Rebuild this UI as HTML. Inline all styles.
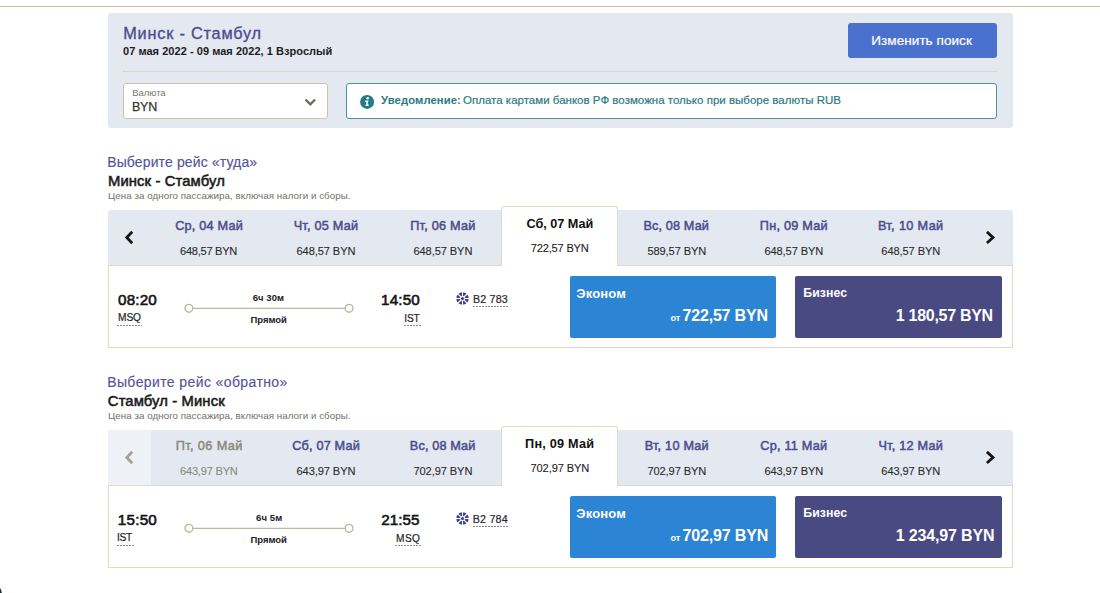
<!DOCTYPE html>
<html><head><meta charset="utf-8"><title>Flights</title>
<style>
html,body{margin:0;padding:0;background:#fff;}
body{width:1100px;height:593px;overflow:hidden;position:relative;font-family:"Liberation Sans",sans-serif;}
.t{position:absolute;line-height:1;white-space:nowrap;}
.r{position:absolute;}
</style></head><body>
<div class="r" style="left:0px;top:6px;width:1100px;height:1px;background:#c3c0a9;"></div>
<div class="r" style="left:108px;top:13px;width:905px;height:115px;background:#e4e9f1;border-radius:3px;"></div>
<div class="t" style="left:123.20px;top:24.80px;font-size:16.3px;font-weight:400;color:#4d4c8e;-webkit-text-stroke:0.35px #4d4c8e;letter-spacing:0.800px;">Минск - Стамбул</div>
<div class="t" style="left:123.00px;top:46.09px;font-size:11px;font-weight:700;color:#1c1c1c;letter-spacing:0.044px;">07 мая 2022 - 09 мая 2022, 1 Взрослый</div>
<div class="r" style="left:848px;top:23px;width:149px;height:35px;background:#4a71cd;border-radius:3px;"></div>
<div class="t" style="left:621.60px;width:600px;text-align:center;top:34.47px;font-size:13.5px;font-weight:400;color:#ffffff;-webkit-text-stroke:0.2px #ffffff;letter-spacing:0.062px;">Изменить поиск</div>
<div class="r" style="left:123px;top:71px;width:874px;height:1px;background:repeating-linear-gradient(90deg,#d3d2c4 0 2px,#dedfd7 2px 3px);"></div>
<div class="r" style="left:123px;top:83px;width:205px;height:36px;background:#fff;border:1px solid #c9c5ab;border-radius:3px;box-sizing:border-box;"></div>
<div class="t" style="left:132.32px;top:87.96px;font-size:9.5px;font-weight:400;color:#77776b;letter-spacing:-0.064px;">Валюта</div>
<div class="t" style="left:132.00px;top:101.42px;font-size:12.5px;font-weight:400;color:#34342a;-webkit-text-stroke:0.25px #34342a;letter-spacing:-0.240px;">BYN</div>
<svg class="r" style="left:300px;top:94px" width="20" height="16" viewBox="0 0 20 16"><path d="M5.5 5.5 L10.3 10.3 L15.1 5.5" fill="none" stroke="#6d6d61" stroke-width="2.4"/></svg>
<div class="r" style="left:346px;top:83px;width:651px;height:36px;background:#fff;border:1.5px solid #4d9399;border-radius:3px;box-sizing:border-box;"></div>
<svg class="r" style="left:359px;top:94px" width="16" height="16" viewBox="0 0 16 16"><circle cx="8.1" cy="7.9" r="7" fill="#237b83"/><circle cx="8.7" cy="4.3" r="1.2" fill="#fff"/><path d="M6.2 6.5 L9.5 6.5 L8.5 10.6 L9.9 10.6 L9.5 11.9 L6.5 11.9 L7.4 7.8 L5.9 7.8 Z" fill="#fff"/></svg>
<div class="t" style="left:381.00px;top:95.43px;font-size:11.3px;font-weight:700;color:#2c7a81;letter-spacing:0.073px;">Уведомление:</div>
<div class="t" style="left:463.00px;top:95.27px;font-size:11.5px;font-weight:400;color:#2c7a81;-webkit-text-stroke:0.2px #2c7a81;letter-spacing:0.013px;">Оплата картами банков РФ возможна только при выборе валюты RUB</div>
<div class="t" style="left:107.20px;top:155.25px;font-size:14px;font-weight:400;color:#55549a;-webkit-text-stroke:0.15px #55549a;letter-spacing:0.126px;">Выберите рейс «туда»</div>
<div class="t" style="left:108.00px;top:173.67px;font-size:14.8px;font-weight:400;color:#1a1a1a;-webkit-text-stroke:0.55px #1a1a1a;letter-spacing:0.114px;">Минск - Стамбул</div>
<div class="t" style="left:108.00px;top:191.10px;font-size:9.8px;font-weight:400;color:#727266;letter-spacing:0.033px;">Цена за одного пассажира, включая налоги и сборы.</div>
<div class="r" style="left:108px;top:210px;width:905px;height:55px;background:#e4e9f1;border-radius:3px 3px 0 0;"></div>
<svg class="r" style="left:121px;top:229px" width="16" height="18" viewBox="0 0 16 18"><path d="M11.2 2.7 L5.75 8.45 L11.2 14.2" fill="none" stroke="#161616" stroke-width="2.8"/></svg>
<svg class="r" style="left:982px;top:229px" width="16" height="18" viewBox="0 0 16 18"><path d="M4.9 2.9 L11 8.45 L4.9 14" fill="none" stroke="#161616" stroke-width="2.8"/></svg>
<div class="r" style="left:108px;top:265px;width:905px;height:83px;background:#fff;border:1px solid #dfdcc6;box-sizing:border-box;"></div>
<div class="r" style="left:501px;top:206px;width:117px;height:60px;background:#fff;border:1px solid #dfdcc6;border-bottom:none;border-radius:3px 3px 0 0;box-sizing:border-box;"></div>
<div class="t" style="left:-90.84px;width:600px;text-align:center;top:220.25px;font-size:12.7px;font-weight:400;color:#4d4c8e;-webkit-text-stroke:0.5px #4d4c8e;letter-spacing:0.213px;">Ср, 04 Май</div>
<div class="t" style="left:-91.44px;width:600px;text-align:center;top:245.60px;font-size:11.1px;font-weight:400;color:#2a2a2a;-webkit-text-stroke:0.1px #2a2a2a;letter-spacing:-0.275px;">648,57 BYN</div>
<div class="t" style="left:25.96px;width:600px;text-align:center;top:220.25px;font-size:12.7px;font-weight:400;color:#4d4c8e;-webkit-text-stroke:0.5px #4d4c8e;letter-spacing:0.220px;">Чт, 05 Май</div>
<div class="t" style="left:25.96px;width:600px;text-align:center;top:245.60px;font-size:11.1px;font-weight:400;color:#2a2a2a;-webkit-text-stroke:0.1px #2a2a2a;letter-spacing:-0.100px;">648,57 BYN</div>
<div class="t" style="left:142.92px;width:600px;text-align:center;top:220.25px;font-size:12.7px;font-weight:400;color:#4d4c8e;-webkit-text-stroke:0.5px #4d4c8e;letter-spacing:0.220px;">Пт, 06 Май</div>
<div class="t" style="left:142.92px;width:600px;text-align:center;top:245.60px;font-size:11.1px;font-weight:400;color:#2a2a2a;-webkit-text-stroke:0.1px #2a2a2a;letter-spacing:-0.100px;">648,57 BYN</div>
<div class="t" style="left:259.88px;width:600px;text-align:center;top:218.35px;font-size:12.7px;font-weight:700;color:#111111;letter-spacing:-0.035px;">Сб, 07 Май</div>
<div class="t" style="left:259.72px;width:600px;text-align:center;top:242.60px;font-size:11.1px;font-weight:400;color:#1e1e1e;-webkit-text-stroke:0.1px #1e1e1e;letter-spacing:-0.213px;">722,57 BYN</div>
<div class="t" style="left:376.28px;width:600px;text-align:center;top:220.25px;font-size:12.7px;font-weight:400;color:#4d4c8e;-webkit-text-stroke:0.5px #4d4c8e;letter-spacing:0.126px;">Вс, 08 Май</div>
<div class="t" style="left:376.84px;width:600px;text-align:center;top:245.60px;font-size:11.1px;font-weight:400;color:#2a2a2a;-webkit-text-stroke:0.1px #2a2a2a;letter-spacing:-0.100px;">589,57 BYN</div>
<div class="t" style="left:493.80px;width:600px;text-align:center;top:220.25px;font-size:12.7px;font-weight:400;color:#4d4c8e;-webkit-text-stroke:0.5px #4d4c8e;letter-spacing:0.220px;">Пн, 09 Май</div>
<div class="t" style="left:493.80px;width:600px;text-align:center;top:245.60px;font-size:11.1px;font-weight:400;color:#2a2a2a;-webkit-text-stroke:0.1px #2a2a2a;letter-spacing:-0.100px;">648,57 BYN</div>
<div class="t" style="left:610.76px;width:600px;text-align:center;top:220.25px;font-size:12.7px;font-weight:400;color:#4d4c8e;-webkit-text-stroke:0.5px #4d4c8e;letter-spacing:0.356px;">Вт, 10 Май</div>
<div class="t" style="left:610.76px;width:600px;text-align:center;top:245.60px;font-size:11.1px;font-weight:400;color:#2a2a2a;-webkit-text-stroke:0.1px #2a2a2a;letter-spacing:-0.100px;">648,57 BYN</div>
<div class="t" style="left:118.00px;top:292.33px;font-size:15.2px;font-weight:400;color:#141414;-webkit-text-stroke:0.6px #141414;letter-spacing:0.200px;">08:20</div>
<div class="t" style="left:118.00px;top:313.47px;font-size:10.2px;font-weight:400;color:#262626;-webkit-text-stroke:0.2px #262626;letter-spacing:-0.080px;">MSQ</div>
<svg class="r" style="left:180px;top:300px" width="180" height="17" viewBox="0 0 180 17"><line x1="13" y1="8.3" x2="165" y2="8.3" stroke="#bcb8a0" stroke-width="1.3"/><circle cx="8.9" cy="8.3" r="3.9" fill="#fff" stroke="#bcb8a0" stroke-width="1.4"/><circle cx="169.1" cy="8.3" r="3.9" fill="#fff" stroke="#bcb8a0" stroke-width="1.4"/></svg>
<div class="t" style="left:-31.58px;width:600px;text-align:center;top:292.76px;font-size:9.5px;font-weight:700;color:#222222;letter-spacing:0.032px;">6ч 30м</div>
<div class="t" style="left:-31.34px;width:600px;text-align:center;top:315.16px;font-size:9.5px;font-weight:700;color:#222222;letter-spacing:-0.064px;">Прямой</div>
<div class="t" style="left:-180.00px;width:600px;text-align:right;top:292.43px;font-size:15.2px;font-weight:400;color:#141414;-webkit-text-stroke:0.6px #141414;letter-spacing:0.200px;">14:50</div>
<div class="t" style="left:-180.52px;width:600px;text-align:right;top:314.07px;font-size:10.2px;font-weight:400;color:#262626;-webkit-text-stroke:0.2px #262626;letter-spacing:-0.240px;">IST</div>
<svg class="r" style="left:455px;top:291px" width="15" height="15" viewBox="-7.5 -7.5 15 15"><circle r="6.2" fill="#3434a4"/><g stroke="#fff" stroke-width="1.15"><line x1="0" y1="-7" x2="0" y2="7"/><line x1="-7" y1="0" x2="7" y2="0"/><line x1="-5" y1="-5" x2="5" y2="5"/><line x1="-5" y1="5" x2="5" y2="-5"/></g><circle r="2.4" fill="#fff"/><circle r="1.5" fill="#3434a4"/></svg>
<div class="t" style="left:473.06px;top:293.74px;font-size:10.7px;font-weight:400;color:#262626;-webkit-text-stroke:0.2px #262626;letter-spacing:0.160px;">B2 783</div>
<div class="r" style="left:473px;top:306px;width:36px;height:1px;background:repeating-linear-gradient(90deg,#8a8a8a 0 2px,transparent 2px 3px);"></div>
<div class="r" style="left:117px;top:325px;width:25px;height:1px;background:repeating-linear-gradient(90deg,#8a8a8a 0 2px,transparent 2px 3px);"></div>
<div class="r" style="left:404px;top:325px;width:18px;height:1px;background:repeating-linear-gradient(90deg,#8a8a8a 0 2px,transparent 2px 3px);"></div>
<div class="r" style="left:570px;top:276px;width:206px;height:62px;background:#2c84d4;border-radius:2px;"></div>
<div class="t" style="left:576.20px;top:286.80px;font-size:13px;font-weight:700;color:#ffffff;letter-spacing:0.192px;">Эконом</div>
<div class="t" style="left:167.80px;width:600px;text-align:right;top:308.16px;font-size:16px;font-weight:700;color:#ffffff;letter-spacing:-0.188px;"><span style="font-size:9.3px">от </span>722,57 BYN</div>
<div class="r" style="left:795px;top:276px;width:207px;height:62px;background:#4a4a82;border-radius:2px;"></div>
<div class="t" style="left:803.28px;top:287.29px;font-size:12.3px;font-weight:700;color:#ffffff;letter-spacing:0.096px;">Бизнес</div>
<div class="t" style="left:392.86px;width:600px;text-align:right;top:308.06px;font-size:16px;font-weight:700;color:#ffffff;letter-spacing:-0.291px;">1 180,57 BYN</div>
<div class="t" style="left:107.20px;top:375.25px;font-size:14px;font-weight:400;color:#55549a;-webkit-text-stroke:0.15px #55549a;letter-spacing:0.393px;">Выберите рейс «обратно»</div>
<div class="t" style="left:107.84px;top:393.67px;font-size:14.8px;font-weight:400;color:#1a1a1a;-webkit-text-stroke:0.55px #1a1a1a;letter-spacing:0.116px;">Стамбул - Минск</div>
<div class="t" style="left:108.00px;top:411.10px;font-size:9.8px;font-weight:400;color:#727266;letter-spacing:0.033px;">Цена за одного пассажира, включая налоги и сборы.</div>
<div class="r" style="left:108px;top:430px;width:905px;height:55px;background:#e4e9f1;border-radius:3px 3px 0 0;"></div>
<div class="r" style="left:108px;top:430px;width:43px;height:55px;background:#eef1f6;border-radius:3px 0 0 0;"></div>
<svg class="r" style="left:121px;top:449px" width="16" height="18" viewBox="0 0 16 18"><path d="M11.2 2.7 L5.75 8.45 L11.2 14.2" fill="none" stroke="#a3a393" stroke-width="2.8"/></svg>
<svg class="r" style="left:982px;top:449px" width="16" height="18" viewBox="0 0 16 18"><path d="M4.9 2.9 L11 8.45 L4.9 14" fill="none" stroke="#161616" stroke-width="2.8"/></svg>
<div class="r" style="left:108px;top:485px;width:905px;height:83px;background:#fff;border:1px solid #dfdcc6;box-sizing:border-box;"></div>
<div class="r" style="left:501px;top:426px;width:117px;height:60px;background:#fff;border:1px solid #dfdcc6;border-bottom:none;border-radius:3px 3px 0 0;box-sizing:border-box;"></div>
<div class="t" style="left:-90.84px;width:600px;text-align:center;top:440.25px;font-size:12.7px;font-weight:400;color:#8b8b7d;-webkit-text-stroke:0.5px #8b8b7d;letter-spacing:0.393px;">Пт, 06 Май</div>
<div class="t" style="left:-91.20px;width:600px;text-align:center;top:465.60px;font-size:11.1px;font-weight:400;color:#8b8b7d;-webkit-text-stroke:0.1px #8b8b7d;letter-spacing:-0.221px;">643,97 BYN</div>
<div class="t" style="left:26.12px;width:600px;text-align:center;top:440.25px;font-size:12.7px;font-weight:400;color:#4d4c8e;-webkit-text-stroke:0.5px #4d4c8e;letter-spacing:0.178px;">Сб, 07 Май</div>
<div class="t" style="left:25.96px;width:600px;text-align:center;top:465.60px;font-size:11.1px;font-weight:400;color:#2a2a2a;-webkit-text-stroke:0.1px #2a2a2a;letter-spacing:-0.100px;">643,97 BYN</div>
<div class="t" style="left:142.68px;width:600px;text-align:center;top:440.25px;font-size:12.7px;font-weight:400;color:#4d4c8e;-webkit-text-stroke:0.5px #4d4c8e;letter-spacing:0.126px;">Вс, 08 Май</div>
<div class="t" style="left:142.92px;width:600px;text-align:center;top:465.60px;font-size:11.1px;font-weight:400;color:#2a2a2a;-webkit-text-stroke:0.1px #2a2a2a;letter-spacing:-0.100px;">702,97 BYN</div>
<div class="t" style="left:259.64px;width:600px;text-align:center;top:438.35px;font-size:12.7px;font-weight:700;color:#111111;letter-spacing:0.197px;">Пн, 09 Май</div>
<div class="t" style="left:259.88px;width:600px;text-align:center;top:462.60px;font-size:11.1px;font-weight:400;color:#1e1e1e;-webkit-text-stroke:0.1px #1e1e1e;letter-spacing:-0.100px;">702,97 BYN</div>
<div class="t" style="left:376.84px;width:600px;text-align:center;top:440.25px;font-size:12.7px;font-weight:400;color:#4d4c8e;-webkit-text-stroke:0.5px #4d4c8e;letter-spacing:0.220px;">Вт, 10 Май</div>
<div class="t" style="left:376.84px;width:600px;text-align:center;top:465.60px;font-size:11.1px;font-weight:400;color:#2a2a2a;-webkit-text-stroke:0.1px #2a2a2a;letter-spacing:-0.100px;">702,97 BYN</div>
<div class="t" style="left:493.80px;width:600px;text-align:center;top:440.25px;font-size:12.7px;font-weight:400;color:#4d4c8e;-webkit-text-stroke:0.5px #4d4c8e;letter-spacing:0.220px;">Ср, 11 Май</div>
<div class="t" style="left:493.80px;width:600px;text-align:center;top:465.60px;font-size:11.1px;font-weight:400;color:#2a2a2a;-webkit-text-stroke:0.1px #2a2a2a;letter-spacing:-0.100px;">643,97 BYN</div>
<div class="t" style="left:610.76px;width:600px;text-align:center;top:440.25px;font-size:12.7px;font-weight:400;color:#4d4c8e;-webkit-text-stroke:0.5px #4d4c8e;letter-spacing:0.220px;">Чт, 12 Май</div>
<div class="t" style="left:610.76px;width:600px;text-align:center;top:465.60px;font-size:11.1px;font-weight:400;color:#2a2a2a;-webkit-text-stroke:0.1px #2a2a2a;letter-spacing:-0.100px;">643,97 BYN</div>
<div class="t" style="left:117.84px;top:512.33px;font-size:15.2px;font-weight:400;color:#141414;-webkit-text-stroke:0.6px #141414;letter-spacing:0.240px;">15:50</div>
<div class="t" style="left:117.04px;top:533.47px;font-size:10.2px;font-weight:400;color:#262626;-webkit-text-stroke:0.2px #262626;letter-spacing:-0.320px;">IST</div>
<svg class="r" style="left:180px;top:520px" width="180" height="17" viewBox="0 0 180 17"><line x1="13" y1="8.3" x2="165" y2="8.3" stroke="#bcb8a0" stroke-width="1.3"/><circle cx="8.9" cy="8.3" r="3.9" fill="#fff" stroke="#bcb8a0" stroke-width="1.4"/><circle cx="169.1" cy="8.3" r="3.9" fill="#fff" stroke="#bcb8a0" stroke-width="1.4"/></svg>
<div class="t" style="left:-30.78px;width:600px;text-align:center;top:512.76px;font-size:9.5px;font-weight:700;color:#222222;letter-spacing:0.120px;">6ч 5м</div>
<div class="t" style="left:-31.34px;width:600px;text-align:center;top:535.16px;font-size:9.5px;font-weight:700;color:#222222;letter-spacing:-0.064px;">Прямой</div>
<div class="t" style="left:-180.64px;width:600px;text-align:right;top:512.43px;font-size:15.2px;font-weight:400;color:#141414;-webkit-text-stroke:0.6px #141414;">21:55</div>
<div class="t" style="left:-179.72px;width:600px;text-align:right;top:534.07px;font-size:10.2px;font-weight:400;color:#262626;-webkit-text-stroke:0.2px #262626;letter-spacing:0.320px;">MSQ</div>
<svg class="r" style="left:455px;top:511px" width="15" height="15" viewBox="-7.5 -7.5 15 15"><circle r="6.2" fill="#3434a4"/><g stroke="#fff" stroke-width="1.15"><line x1="0" y1="-7" x2="0" y2="7"/><line x1="-7" y1="0" x2="7" y2="0"/><line x1="-5" y1="-5" x2="5" y2="5"/><line x1="-5" y1="5" x2="5" y2="-5"/></g><circle r="2.4" fill="#fff"/><circle r="1.5" fill="#3434a4"/></svg>
<div class="t" style="left:472.74px;top:513.74px;font-size:10.7px;font-weight:400;color:#262626;-webkit-text-stroke:0.2px #262626;letter-spacing:0.224px;">B2 784</div>
<div class="r" style="left:473px;top:526px;width:36px;height:1px;background:repeating-linear-gradient(90deg,#8a8a8a 0 2px,transparent 2px 3px);"></div>
<div class="r" style="left:117px;top:545px;width:17px;height:1px;background:repeating-linear-gradient(90deg,#8a8a8a 0 2px,transparent 2px 3px);"></div>
<div class="r" style="left:395px;top:545px;width:26px;height:1px;background:repeating-linear-gradient(90deg,#8a8a8a 0 2px,transparent 2px 3px);"></div>
<div class="r" style="left:570px;top:496px;width:206px;height:62px;background:#2c84d4;border-radius:2px;"></div>
<div class="t" style="left:576.20px;top:506.80px;font-size:13px;font-weight:700;color:#ffffff;letter-spacing:0.192px;">Эконом</div>
<div class="t" style="left:168.12px;width:600px;text-align:right;top:528.16px;font-size:16px;font-weight:700;color:#ffffff;letter-spacing:-0.159px;"><span style="font-size:9.3px">от </span>702,97 BYN</div>
<div class="r" style="left:795px;top:496px;width:207px;height:62px;background:#4a4a82;border-radius:2px;"></div>
<div class="t" style="left:803.28px;top:507.29px;font-size:12.3px;font-weight:700;color:#ffffff;letter-spacing:0.096px;">Бизнес</div>
<div class="t" style="left:394.46px;width:600px;text-align:right;top:528.06px;font-size:16px;font-weight:700;color:#ffffff;letter-spacing:-0.145px;">1 234,97 BYN</div>
<div class="r" style="left:0px;top:588px;width:1px;height:5px;background:linear-gradient(#c9d0d3,#0c2a36 45%);"></div>
<div class="r" style="left:1px;top:590px;width:1px;height:3px;background:linear-gradient(#e8eced,#3d5a64);"></div>
</body></html>
